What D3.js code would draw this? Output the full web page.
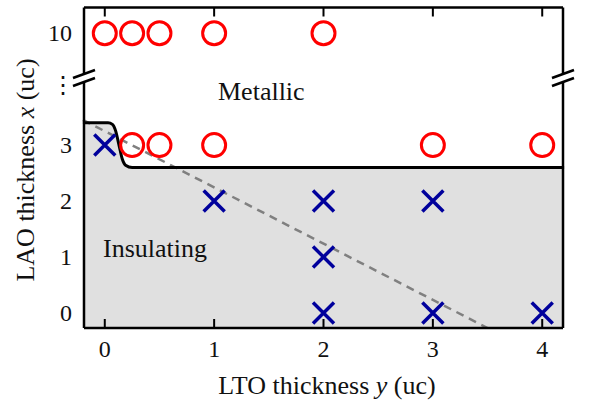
<!DOCTYPE html>
<html>
<head>
<meta charset="utf-8">
<script src="https://cdn.jsdelivr.net/npm/d3@7"></script>
<style>
  body { margin: 0; background: #fff; }
</style>
</head>
<body>
<svg id="chart" width="592" height="407"></svg>
<script>
// Data
const xTicks = [0, 1, 2, 3, 4];
const yTicks = [0, 1, 2, 3, 10];

// Metallic samples (red circles), [LTO y, LAO x]
const metallic = [
  [0, 10], [0.25, 10], [0.5, 10], [1, 10], [2, 10],
  [0.25, 3], [0.5, 3], [1, 3], [3, 3], [4, 3]
];

// Insulating samples (blue crosses)
const insulating = [
  [0, 3], [1, 2], [2, 2], [3, 2], [2, 1], [2, 0], [3, 0], [4, 0]
];

// Phase boundary (thick black step)
const boundary = [
  [-0.2, 3.4], [0.03, 3.4], [0.07, 3.37], [0.1, 3.25], [0.13, 3.0],
  [0.16, 2.75], [0.19, 2.64], [0.25, 2.6], [4.2, 2.6]
];

// Dashed guide line
const guide = [[-0.2, 3.45], [3.5, -0.27]];

// Value 10 sits above the axis break, drawn at position 5
const breakAt = 10, breakPos = 5;
const yPos = v => v === breakAt ? breakPos : v;

const FONT = '"Liberation Serif", "DejaVu Serif", "Times New Roman", serif';

const svg = d3.select('#chart')
  .attr('font-family', FONT)
  .style('font-family', FONT);
const plotL = 84, plotR = 563, plotT = 7.5, plotB = 328;

const x = d3.scaleLinear().domain([-0.19, 4.19]).range([plotL, plotR]);
const y = d3.scaleLinear().domain([-0.27, 5.46]).range([plotB, plotT]);

// Shaded insulating region
svg.append('path')
  .datum(boundary)
  .attr('fill', '#e0e0e0')
  .attr('d', d3.area()
    .x(d => x(d[0]))
    .y0(plotB)
    .y1(d => y(d[1]))
    .curve(d3.curveMonotoneX));

// Dashed guide
svg.append('path')
  .datum(guide)
  .attr('fill', 'none')
  .attr('stroke', '#808080')
  .attr('stroke-width', 2.5)
  .attr('stroke-dasharray', '8,6')
  .attr('d', d3.line().x(d => x(d[0])).y(d => y(d[1])));

// Boundary line
svg.append('path')
  .datum(boundary)
  .attr('fill', 'none')
  .attr('stroke', '#000')
  .attr('stroke-width', 3)
  .attr('d', d3.line().x(d => x(d[0])).y(d => y(d[1])).curve(d3.curveMonotoneX));

// Frame with breaks on the side spines
const breakY = y(4.2);
const frame = svg.append('g')
  .attr('stroke', '#000')
  .attr('stroke-width', 2.5)
  .attr('fill', 'none');

frame.append('line').attr('x1', plotL).attr('x2', plotR).attr('y1', plotT).attr('y2', plotT);
frame.append('line').attr('x1', plotL).attr('x2', plotR).attr('y1', plotB).attr('y2', plotB);
[plotL, plotR].forEach(sx => {
  frame.append('line').attr('x1', sx).attr('x2', sx).attr('y1', plotT).attr('y2', breakY - 4);
  frame.append('line').attr('x1', sx).attr('x2', sx).attr('y1', breakY + 4).attr('y2', plotB);
  [-4, 4].forEach(off => {
    frame.append('line')
      .attr('x1', sx - 11).attr('y1', breakY + off + 4)
      .attr('x2', sx + 11).attr('y2', breakY + off - 4);
  });
});

// Ticks (inside, top and bottom)
const ticks = svg.append('g').attr('stroke', '#000').attr('stroke-width', 2);
xTicks.forEach(t => {
  ticks.append('line').attr('x1', x(t)).attr('x2', x(t)).attr('y1', plotB).attr('y2', plotB - 9);
  ticks.append('line').attr('x1', x(t)).attr('x2', x(t)).attr('y1', plotT).attr('y2', plotT + 9);
});

// Tick labels
svg.append('g').selectAll('text')
  .data(xTicks)
  .join('text')
  .attr('x', d => x(d))
  .attr('y', 357)
  .attr('text-anchor', 'middle')
  .attr('font-size', 24)
  .attr('fill', '#111')
  .text(d => d);

svg.append('g').selectAll('text')
  .data(yTicks)
  .join('text')
  .attr('x', 72)
  .attr('y', d => y(yPos(d)) + 8)
  .attr('text-anchor', 'end')
  .attr('font-size', 24)
  .attr('fill', '#111')
  .text(d => d);

svg.append('text')
  .attr('x', 63)
  .attr('y', breakY + 15)
  .attr('text-anchor', 'middle')
  .attr('font-size', 24)
  .attr('fill', '#111')
  .style('font-family', '"DejaVu Serif", serif')
  .text('⋮');

// Markers
svg.append('g').selectAll('circle')
  .data(metallic)
  .join('circle')
  .attr('cx', d => x(d[0]))
  .attr('cy', d => y(yPos(d[1])))
  .attr('r', 11.5)
  .attr('fill', 'none')
  .attr('stroke', '#ff0000')
  .attr('stroke-width', 3);

const s = 10.5;
svg.append('g').selectAll('path')
  .data(insulating)
  .join('path')
  .attr('d', d => {
    const cx = x(d[0]), cy = y(yPos(d[1]));
    return `M${cx - s},${cy - s}L${cx + s},${cy + s}M${cx - s},${cy + s}L${cx + s},${cy - s}`;
  })
  .attr('stroke', '#00009c')
  .attr('stroke-width', 3.5)
  .attr('fill', 'none');

// Region labels
svg.append('text').attr('x', 218).attr('y', 100).attr('font-size', 26).attr('fill', '#111').text('Metallic');
svg.append('text').attr('x', 103).attr('y', 257).attr('font-size', 26).attr('fill', '#111').text('Insulating');

// Axis titles
const xl = svg.append('text')
  .attr('x', 327).attr('y', 394)
  .attr('text-anchor', 'middle')
  .attr('font-size', 26)
  .attr('fill', '#111');
xl.append('tspan').text('LTO thickness ');
xl.append('tspan').attr('font-style', 'italic').text('y');
xl.append('tspan').text(' (uc)');

const yl = svg.append('text')
  .attr('transform', 'translate(34,170) rotate(-90)')
  .attr('text-anchor', 'middle')
  .attr('font-size', 26)
  .attr('fill', '#111');
yl.append('tspan').text('LAO thickness ');
yl.append('tspan').attr('font-style', 'italic').text('x');
yl.append('tspan').text(' (uc)');
</script>
</body>
</html>
